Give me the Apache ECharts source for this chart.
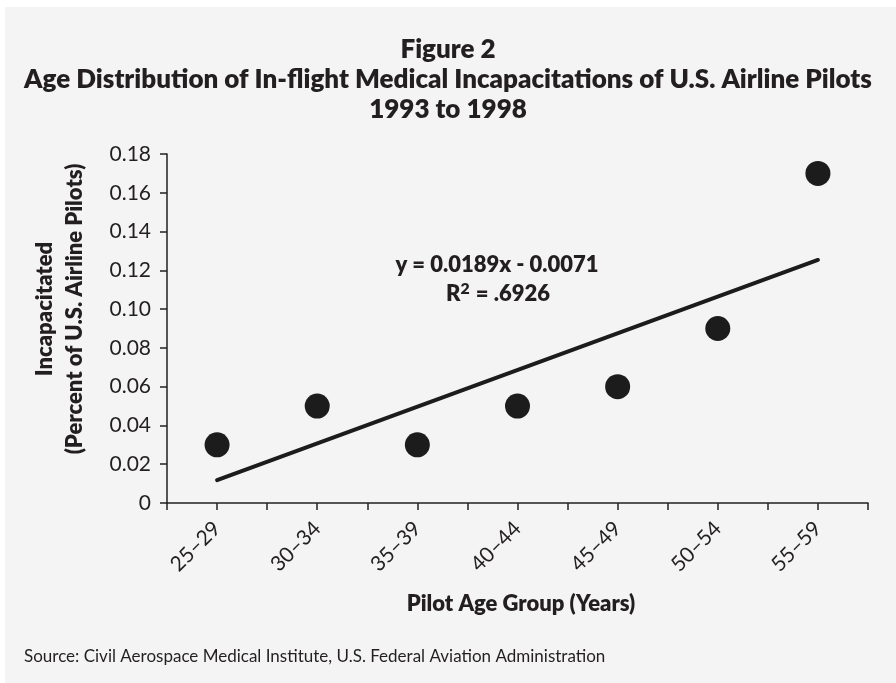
<!DOCTYPE html>
<html>
<head>
<meta charset="utf-8">
<script src="https://cdn.jsdelivr.net/npm/echarts@6/dist/echarts.min.js"></script>
<style>html,body{margin:0;padding:0;background:#fff;}#c{width:896px;height:683px;}</style>
</head>
<body>
<div id="c"></div>
<script>
// ---- data ----
const categories = ['25–29', '30–34', '35–39', '40–44', '45–49', '50–54', '55–59'];
const incapacitated = [0.03, 0.05, 0.03, 0.05, 0.06, 0.09, 0.17];
const yTicks = ['0', '0.02', '0.04', '0.06', '0.08', '0.10', '0.12', '0.14', '0.16', '0.18'];
const titleLines = ['Figure 2', 'Age Distribution of In-flight Medical Incapacitations of U.S. Airline Pilots', '1993 to 1998'];
const equationText = 'y = 0.0189x - 0.0071';
const r2Text = '.6926';
const xName = 'Pilot Age Group (Years)';
const yNameLines = ['Incapacitated', '(Percent of U.S. Airline Pilots)'];
const sourceText = 'Source: Civil Aerospace Medical Institute, U.S. Federal Aviation Administration';

// ---- linear trend (least squares on group index 1..n) ----
const n = incapacitated.length;
const xs = incapacitated.map((_, i) => i + 1);
const mx = xs.reduce((a, b) => a + b, 0) / n;
const my = incapacitated.reduce((a, b) => a + b, 0) / n;
let sxy = 0, sxx = 0;
for (let i = 0; i < n; i++) { sxy += (xs[i] - mx) * (incapacitated[i] - my); sxx += (xs[i] - mx) ** 2; }
const slope = sxy / sxx, intercept = my - slope * mx;
const trend = [[0.5, slope * 1 + intercept], [n - 0.5, slope * n + intercept]];

// ---- font fitting ----
const FAM = 'Lato';
const BW = 800;
const cv = document.createElement('canvas').getContext('2d');
function fit(text, weight, target, maxSize) {
  cv.font = weight + ' 100px ' + FAM;
  const s = 100 * target / cv.measureText(text).width;
  return Math.min(s, maxSize);
}
const titleSize = fit(titleLines[1], BW, 848, 26);
const eqSize = fit(equationText, BW, 209, 22);
const xNameSize = fit(xName, BW, 246, 22);
const yNameSize = fit(yNameLines[1], BW, 307, 22);
const tickSize = fit('0.18', 'normal', 42, 21);
const xTickSize = fit('25–29', 'normal', 70, 21);
const srcSize = fit(sourceText, 'normal', 604, 17);
const TXT = '#231f20';

const chart = echarts.init(document.getElementById('c'));
chart.setOption({
  backgroundColor: '#ffffff',
  animation: false,
  grid: { left: 167, right: 28, top: 154, bottom: 180 },
  xAxis: {
    type: 'value', min: 0, max: n, interval: 0.5,
    axisLine: { show: true, onZero: false, lineStyle: { color: TXT, width: 1.5 } },
    axisTick: { show: true, length: 7, lineStyle: { color: TXT, width: 1.5 } },
    splitLine: { show: false },
    axisLabel: {
      rotate: 45, margin: 22, fontFamily: FAM, fontSize: xTickSize, color: TXT,
      showMinLabel: true, showMaxLabel: true,
      formatter: v => { const k = v - 0.5; return Number.isInteger(k) && k >= 0 && k < n ? categories[k] : ''; }
    }
  },
  yAxis: {
    type: 'value', min: 0, max: 0.18, interval: 0.02,
    axisLine: { show: true, lineStyle: { color: TXT, width: 1.5 } },
    axisTick: { show: true, length: 7, lineStyle: { color: TXT, width: 1.5 } },
    splitLine: { show: false },
    axisLabel: {
      margin: 16, fontFamily: FAM, fontSize: tickSize, color: TXT,
      formatter: v => yTicks[Math.round(v / 0.02)]
    }
  },
  series: [
    {
      type: 'line', data: trend, symbol: 'none', z: 2,
      lineStyle: { color: '#1c1c1c', width: 4, cap: 'round' }
    },
    {
      type: 'scatter', z: 3,
      data: incapacitated.map((v, i) => [i + 0.5, v]),
      symbol: 'circle', symbolSize: 25,
      itemStyle: { color: '#1c1c1c', opacity: 1 }
    }
  ],
  graphic: [
    { type: 'rect', z: -100, silent: true, shape: { x: 5, y: 7, width: 891, height: 676 }, style: { fill: '#f4f4f4' } },
    { type: 'text', x: 448, y: 50, style: { text: titleLines[0], fontFamily: FAM, fontWeight: BW, fontSize: titleSize, fill: TXT, textAlign: 'center', textVerticalAlign: 'middle' } },
    { type: 'text', x: 448, y: 80, style: { text: titleLines[1], fontFamily: FAM, fontWeight: BW, fontSize: titleSize, fill: TXT, textAlign: 'center', textVerticalAlign: 'middle' } },
    { type: 'text', x: 448, y: 110, style: { text: titleLines[2], fontFamily: FAM, fontWeight: BW, fontSize: titleSize, fill: TXT, textAlign: 'center', textVerticalAlign: 'middle' } },
    { type: 'text', x: 497, y: 265, style: { text: equationText, fontFamily: FAM, fontWeight: BW, fontSize: eqSize, fill: TXT, textAlign: 'center', textVerticalAlign: 'middle' } },
    { type: 'text', x: 498, y: 294, style: {
        text: '{a|R}{s|2}{a| = ' + r2Text + '}',
        textAlign: 'center', textVerticalAlign: 'middle',
        rich: {
          a: { fontFamily: FAM, fontWeight: BW, fontSize: eqSize, fill: TXT, color: TXT },
          s: { fontFamily: FAM, fontWeight: BW, fontSize: eqSize * 0.72, fill: TXT, color: TXT, padding: [0, 1, 10, 0] }
        } } },
    { type: 'text', x: 521, y: 604, style: { text: xName, fontFamily: FAM, fontWeight: BW, fontSize: xNameSize, fill: TXT, textAlign: 'center', textVerticalAlign: 'middle' } },
    { type: 'text', x: 60, y: 309, rotation: Math.PI / 2, style: { text: yNameLines.join('\n'), lineHeight: 30, fontFamily: FAM, fontWeight: BW, fontSize: yNameSize, fill: TXT, textAlign: 'center', textVerticalAlign: 'middle' } },
    { type: 'text', x: 24, y: 657, style: { text: sourceText, fontFamily: FAM, fontSize: srcSize, fill: TXT, textAlign: 'left', textVerticalAlign: 'middle' } }
  ]
});
</script>
</body>
</html>
